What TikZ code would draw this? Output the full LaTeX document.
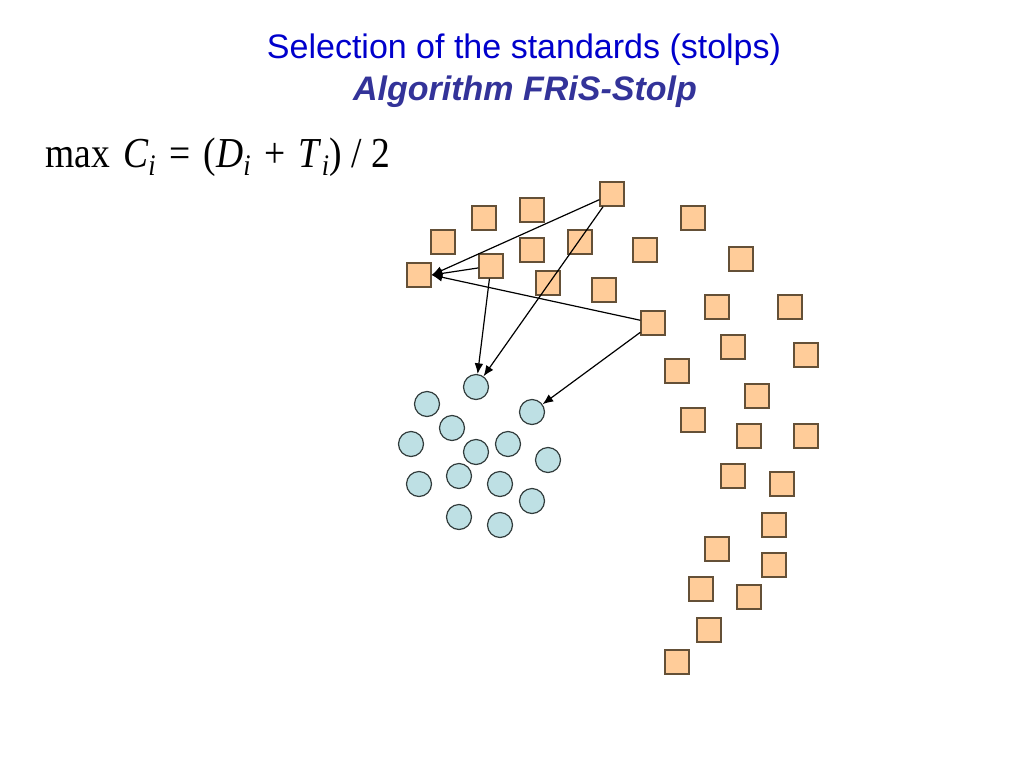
\documentclass[tikz,border=0pt]{standalone}
\usepackage{amsmath}
\usepackage{fontspec}
\setmainfont{Liberation Serif}
\setsansfont{Liberation Sans}
\usetikzlibrary{arrows.meta}
\definecolor{stolpfill}{RGB}{255,204,153}
\definecolor{stolpdraw}{RGB}{100,80,55}
\definecolor{objfill}{RGB}{190,224,228}
\definecolor{objdraw}{RGB}{50,60,60}
\definecolor{titleblue}{RGB}{0,0,204}
\definecolor{subtitleblue}{RGB}{51,51,153}

\begin{document}
\begin{tikzpicture}[
  % one unit = one pixel of the slide
  x=0.75pt, y=-0.75pt,
  stolp/.style={
    draw=stolpdraw,
    fill=stolpfill,
    line width=1pt,
    minimum size=18pt,
    inner sep=0pt
  },
  obj/.style={
    circle,
    draw=objdraw,
    fill=objfill,
    line width=0.9pt,
    minimum size=18.75pt,
    inner sep=0pt
  },
  arr/.style={
    -{Latex[length=8pt,width=6.5pt]},
    line width=0.9pt,
    color=black
  },
  heading/.style={
    anchor=base,
    font=\sffamily\fontsize{25.5}{30}\selectfont
  },
  subheading/.style={
    anchor=base,
    font=\sffamily\bfseries\itshape\fontsize{25.5}{30}\selectfont
  }
]
\useasboundingbox (0,0) rectangle (1024,768);

% Title
\node[heading, text=titleblue] (title) at (524,58) {Selection of the standards (stolps)};
\node[subheading, text=subtitleblue] (subtitle) at (525,100) {Algorithm FRiS-Stolp};

% Criterion
\node[anchor=base west, font=\fontsize{32}{36}\selectfont, inner sep=0pt] (formula) at (45,167)
  {\scalebox{0.88}[1]{max\hspace{0.35em}\textit{C}$_{\textit{i}}$\hspace{0.35em}=\hspace{0.35em}(\textit{D}$_{\textit{i}}$\hspace{0.35em}+\hspace{0.35em}\textit{T}$_{\textit{i}}$)\hspace{0.25em}/\hspace{0.25em}2}};

% Squares (first class)
\node[stolp] (sA) at (612,194) {};
\node[stolp] (sB) at (491,266) {};
\node[stolp] (sC) at (653,323) {};
\node[stolp] (sT) at (419,275) {};
\foreach \px/\py [count=\i] in {484/218, 532/210, 443/242, 532/250, 580/242, 645/250,
    548/283, 604/290, 693/218, 741/259, 717/307, 790/307, 733/347, 806/355,
    677/371, 757/396, 693/420, 749/436, 806/436, 733/476, 782/484, 774/525,
    717/549, 774/565, 701/589, 749/597, 709/630, 677/662}
  \node[stolp] (s\i) at (\px,\py) {};

% Circles (second class)
\node[obj] (cA) at (476,387) {};
\node[obj] (cB) at (532,412) {};
\foreach \px/\py [count=\i] in {427/404, 452/428, 411/444, 476/452, 508/444, 548/460,
    419/484, 459/476, 500/484, 532/501, 459/517, 500/525}
  \node[obj] (c\i) at (\px,\py) {};

% Distances
\draw[arr] (sA) -- (sT.east);
\draw[arr] (sB) -- (sT.east);
\draw[arr] (sC) -- (sT.east);
\draw[arr] (sA) -- (cA);
\draw[arr] (sB) -- (cA);
\draw[arr] (sC) -- (cB);

\end{tikzpicture}
\end{document}
